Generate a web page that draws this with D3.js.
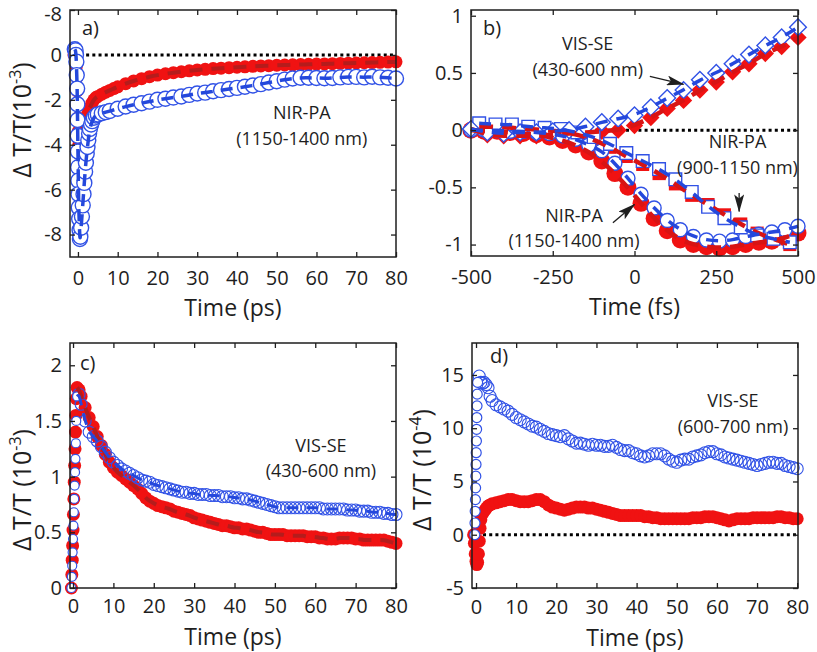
<!DOCTYPE html>
<html>
<head>
<meta charset="utf-8">
<script src="https://cdn.jsdelivr.net/npm/d3@7"></script>
<style>
  body { margin: 0; background: #fff; }
</style>
</head>
<body>
<svg id="fig" width="817" height="652"></svg>
<script>
// ---------- data ----------
// shared time grid (ps) for the dense late-time parts of c) and d)
var tGrid = [2,3,4,5,6,7,8,9,10,11,12,13,14,15,16,17,18,19,20,21,22,23,24,25,26,27,28,29,30,
  31,32,33,34,35,36,37,38,39,40,41,42,43,44,45,46,47,48,49,50,51,52,53,54,55,56,57,58,59,60,
  61,62,63,64,65,66,67,68,69,70,71,72,73,74,75,76,77,78,79,80];

// a) NIR-PA 1150-1400 nm, 10^-3
var tA_red = [-1.0,-0.6,-0.4,-0.3,-0.2,-0.1,0,0.1,0.2,0.3,0.5,0.8,1.2,1.6,2,2.5,3,3.5,4,4.5,
  5,6,7,8,9,10,12,14,16,18,20,22,24,26,28,30,32,34,36,38,40,42,44,46,48,50,52,54,56,58,60,
  62,64,66,68,70,72,74,76,78,80];
var vA_red = [0,-0.1,-0.5,-1.0,-1.6,-2.2,-2.8,-3.4,-4.0,-4.4,-4.2,-3.7,-3.3,-3.0,-2.8,-2.6,-2.35,-2.15,-2.0,-1.9,
  -1.85,-1.75,-1.66,-1.58,-1.5,-1.42,-1.28,-1.16,-1.06,-0.97,-0.9,-0.84,-0.79,-0.75,-0.71,-0.67,
  -0.64,-0.61,-0.59,-0.57,-0.55,-0.53,-0.51,-0.49,-0.48,-0.46,-0.45,-0.44,-0.43,-0.42,-0.41,
  -0.4,-0.39,-0.38,-0.37,-0.36,-0.35,-0.34,-0.33,-0.32,-0.31];
var tA_blue = [-0.8,-0.6,-0.5,-0.4,-0.3,-0.2,-0.15,-0.1,-0.05,0,0.05,0.1,0.15,0.2,0.3,0.4,0.5,0.6,0.8,1.0,
  1.2,1.4,1.6,1.8,2.0,2.2,2.4,2.6,2.8,3.0,3.3,3.6,4.0,4.5,5,6,7,8,
  10,12,14,16,18,20,22,24,26,28,30,32,34,36,38,40,42,44,46,48,50,52,54,56,58,60,62,64,66,68,70,72,74,76,78,80];
var vA_blue = [0.25,0.2,0.0,-0.3,-0.9,-1.5,-2.2,-2.9,-3.6,-4.3,-5.0,-5.6,-6.2,-6.8,-7.3,-7.8,-8.2,-8.1,-7.7,-7.2,
  -6.7,-6.2,-5.7,-5.2,-4.8,-4.4,-4.1,-3.8,-3.5,-3.3,-3.1,-2.95,-2.8,-2.7,-2.65,-2.6,-2.55,-2.5,
  -2.4,-2.3,-2.22,-2.15,-2.08,-2.0,-1.95,-1.9,-1.85,-1.78,-1.72,-1.68,-1.62,-1.57,-1.52,-1.47,-1.42,-1.36,-1.3,-1.23,
  -1.17,-1.1,-1.05,-1.02,-1.02,-1.03,-1.04,-1.03,-1.0,-0.98,-0.98,-1.0,-0.97,-1.0,-1.02,-1.05];
var ticksA_y = [2, 0, -2, -4, -6, -8];
var labelsA_y = ["-8", "0", "-2", "-4", "-6", "-8"];

// b) early times (fs), normalised
var tB_dia = [-500,-450,-400,-350,-300,-250,-200,-150,-100,-50,0,50,100,150,200,250,300,350,400,450,500];
var vB_dia_red  = [0.01,-0.04,-0.05,-0.05,-0.05,-0.04,-0.03,-0.02,-0.01,0.0,0.04,0.11,0.19,0.26,0.35,0.42,0.51,0.58,0.67,0.73,0.81];
var vB_dia_blue = [0.01,-0.02,-0.03,-0.02,-0.02,-0.01,0.0,0.03,0.07,0.1,0.13,0.2,0.28,0.35,0.44,0.5,0.58,0.66,0.74,0.81,0.9];
var tB_sq = [-475,-425,-375,-325,-275,-225,-175,-125,-75,-25,25,75,125,175,225,275,325,375,425,475];
var vB_sq_red  = [0.03,0.03,0.02,0.01,0.0,-0.01,-0.04,-0.08,-0.15,-0.23,-0.3,-0.38,-0.47,-0.57,-0.65,-0.74,-0.82,-0.9,-0.95,-1.0];
var vB_sq_blue = [0.06,0.05,0.05,0.03,0.02,0.01,-0.02,-0.06,-0.12,-0.2,-0.27,-0.34,-0.43,-0.54,-0.67,-0.77,-0.85,-0.92,-0.95,-0.98];
var tB_cir = [-500,-460,-420,-380,-340,-300,-260,-220,-180,-140,-100,-60,-20,20,60,100,140,180,220,260,300,340,380,420,460,500];
var vB_cir_red  = [0,-0.01,-0.01,-0.02,-0.03,-0.04,-0.06,-0.09,-0.13,-0.19,-0.27,-0.38,-0.5,-0.64,-0.77,-0.88,-0.96,-1.0,-1.02,-1.03,-1.02,-1.0,-0.98,-0.97,-0.94,-0.9];
var vB_cir_blue = [0,0,0,-0.01,-0.01,-0.02,-0.03,-0.05,-0.08,-0.13,-0.18,-0.29,-0.42,-0.56,-0.68,-0.79,-0.87,-0.93,-0.96,-0.97,-0.96,-0.93,-0.91,-0.89,-0.87,-0.84];

// c) VIS-SE 430-600 nm, 10^-3
var tC_early = [-0.4,-0.3,-0.2,-0.1,0,0.1,0.2,0.3,0.4,0.5,0.6,0.7,0.8,1.0,1.5];
var vC_red = [0,0.12,0.25,0.38,0.52,0.66,0.8,0.95,1.1,1.25,1.4,1.55,1.7,1.8,1.78,
  1.72,1.62,1.53,1.45,1.36,1.28,1.2,1.13,1.08,1.04,1.01,0.98,0.95,0.92,0.89,0.85,0.81,0.78,0.76,
  0.74,0.73,0.72,0.71,0.69,0.68,0.67,0.66,0.65,0.63,0.62,0.61,0.6,0.59,0.58,0.57,0.56,0.56,0.55,0.54,
  0.54,0.53,0.53,0.52,0.51,0.5,0.5,0.49,0.48,0.48,0.48,0.48,0.47,0.47,0.47,0.47,0.47,0.46,0.46,0.46,
  0.45,0.45,0.44,0.44,0.44,0.45,0.45,0.45,0.45,0.44,0.44,0.43,0.43,0.43,0.43,0.43,0.43,0.42,0.41,0.40];
var vC_blue = [0,0.1,0.2,0.32,0.44,0.56,0.68,0.8,0.92,1.04,1.16,1.3,1.5,1.72,1.74,
  1.65,1.5,1.4,1.36,1.32,1.27,1.22,1.17,1.13,1.1,1.07,1.05,1.03,1.01,0.99,0.97,0.96,0.95,0.93,
  0.92,0.91,0.9,0.89,0.88,0.87,0.86,0.86,0.85,0.85,0.84,0.84,0.84,0.83,0.83,0.83,0.82,0.82,0.82,0.81,
  0.81,0.8,0.8,0.79,0.78,0.77,0.76,0.75,0.74,0.73,0.72,0.72,0.72,0.72,0.72,0.72,0.72,0.72,0.72,0.72,
  0.72,0.71,0.71,0.71,0.71,0.71,0.71,0.7,0.7,0.7,0.69,0.69,0.69,0.68,0.68,0.68,0.67,0.67,0.66,0.66];

// d) VIS-SE 600-700 nm, 10^-4
var tD_blue_early = [-0.3,-0.25,-0.2,-0.15,-0.1,-0.05,0,0.05,0.1,0.15,0.2,0.25,0.3,0.4,0.8,1.2,1.6,2.0,2.5,3.0,3.5,4];
var vD_blue = [0,1.1,2.2,3.3,4.4,5.5,6.6,7.7,8.8,9.9,11,12.1,13.2,14.3,14.9,14.3,14.2,14.3,14.1,13.8,13.0,12.6,
  12.2,12.0,11.8,11.6,11.3,11.0,10.8,10.6,10.4,10.2,10.1,9.9,9.7,9.5,9.4,9.3,
  9.2,9.3,9.0,8.8,8.6,8.6,8.5,8.4,8.5,8.4,8.4,8.3,8.3,8.4,8.2,8.0,7.9,7.9,7.7,7.6,
  7.4,7.3,7.4,7.6,7.6,7.6,7.4,7.1,6.9,6.8,7.0,7.1,7.1,7.3,7.4,7.5,7.7,7.8,7.8,7.6,
  7.5,7.3,7.2,7.1,7.0,6.9,6.8,6.7,6.6,6.5,6.6,6.7,6.8,6.8,6.7,6.7,6.5,6.4,6.3,6.2];
var tD_red_early = [-0.6,-0.4,-0.2,0,0.2,0.4,0.6,0.8,1.0,1.2,1.5,1.8,2.2,2.6,3,3.5,4];
var vD_red = [0,-0.8,-1.8,-2.5,-2.8,-2.6,-1.8,-0.6,0.6,1.4,1.9,2.1,2.3,2.5,2.7,2.8,2.9,
  3.0,3.1,3.2,3.3,3.3,3.2,3.1,3.1,3.1,3.2,3.3,3.3,3.1,2.8,2.6,2.5,
  2.4,2.3,2.4,2.5,2.6,2.6,2.6,2.5,2.5,2.4,2.3,2.2,2.1,2.0,1.9,1.8,1.8,1.8,1.8,1.8,
  1.8,1.7,1.7,1.6,1.6,1.5,1.5,1.5,1.5,1.5,1.5,1.5,1.5,1.6,1.6,1.6,1.7,1.7,1.7,1.6,
  1.5,1.4,1.3,1.4,1.5,1.5,1.5,1.5,1.6,1.6,1.6,1.6,1.6,1.6,1.7,1.7,1.6,1.6,1.5,1.5];

// ---------- style ----------
var FONT = "'Open Sans', 'Noto Sans', sans-serif";
var RED = "#f01212", BLUE = "#3152e6", DKRED = "#b51c1c", LNRED = "#d81414", DKBLUE = "#2448dc", INK = "#1e1e1e";

var svg = d3.select("#fig");
svg.append("rect").attr("width", 817).attr("height", 652).attr("fill", "#fff");

svg.append("defs").append("marker")
  .attr("id", "head")
  .attr("markerUnits", "userSpaceOnUse")
  .attr("viewBox", "0 0 18 10")
  .attr("refX", 17).attr("refY", 5)
  .attr("markerWidth", 18).attr("markerHeight", 10)
  .attr("orient", "auto")
  .append("path").attr("d", "M0,0 L18,5 L0,10 L4,5 Z").attr("fill", INK);

function zip(t, v) {
  return t.map(function(d, i) { return { t: d, v: v[i] }; });
}

function axisStyle(sel) {
  sel.select(".domain").remove();
  sel.selectAll(".tick line").attr("stroke", INK).attr("stroke-width", 1.3);
  sel.selectAll(".tick text").attr("fill", INK).attr("font-size", 20).attr("font-family", FONT);
}

function makePanel(p) {
  var x = d3.scaleLinear().domain(p.xDom).range([p.left, p.right]);
  var y = d3.scaleLinear().domain(p.yDom).range([p.bottom, p.top]);
  var g = svg.append("g");
  var back = g.append("g"), marks = g.append("g"), lines = g.append("g"), front = g.append("g");

  if (p.zero !== undefined) {
    back.append("line")
      .attr("x1", x(p.zero)).attr("x2", p.right)
      .attr("y1", y(0)).attr("y2", y(0))
      .attr("stroke", "#000").attr("stroke-width", 3).attr("stroke-dasharray", "3,3.2");
  }

  front.append("rect")
    .attr("x", p.left).attr("y", p.top)
    .attr("width", p.right - p.left).attr("height", p.bottom - p.top)
    .attr("fill", "none").attr("stroke", INK).attr("stroke-width", 1.5);

  var fmt = function(d) { return String(d); };
  front.append("g").attr("transform", "translate(0," + p.bottom + ")")
    .call(d3.axisBottom(x).tickValues(p.xTicks).tickSize(-5).tickPadding(p.xPad).tickFormat(fmt))
    .call(axisStyle);
  front.append("g").attr("transform", "translate(0," + p.top + ")")
    .call(d3.axisTop(x).tickValues(p.xTicks).tickSize(-5).tickFormat(""))
    .call(axisStyle);
  var yl = front.append("g").attr("transform", "translate(" + p.left + ",0)")
    .call(d3.axisLeft(y).tickValues(p.yTicks).tickSize(-5).tickPadding(8).tickFormat(p.yFmt || fmt))
    .call(axisStyle);
  // the top label sits a little below the frame edge
  yl.selectAll(".tick text").filter(function(d) { return y(d) - p.top < 2; })
    .attr("dy", "0.5em");
  front.append("g").attr("transform", "translate(" + p.right + ",0)")
    .call(d3.axisRight(y).tickValues(p.yTicks).tickSize(-5).tickFormat(""))
    .call(axisStyle);

  front.append("text")
    .attr("x", (p.left + p.right) / 2).attr("y", p.bottom + p.titleDy)
    .attr("text-anchor", "middle").attr("font-family", FONT).attr("font-size", 23).attr("fill", INK)
    .text(p.xTitle);

  front.append("text")
    .attr("x", p.left + p.tag[0]).attr("y", p.top + p.tag[1])
    .attr("font-family", FONT).attr("font-size", 20).attr("fill", INK)
    .text(p.tagText);

  if (p.yTitle) {
    var yt = front.append("text")
      .attr("transform", "translate(" + p.yTitle.x + "," + p.yTitle.y + ") rotate(-90)")
      .attr("text-anchor", "middle").attr("font-family", FONT).attr("font-size", 25).attr("fill", INK);
    yt.append("tspan").text(p.yTitle.main);
    yt.append("tspan").attr("dy", -10).attr("font-size", 16).text(p.yTitle.exp);
    yt.append("tspan").attr("dy", 10).text(")");
  }

  return { x: x, y: y, marks: marks, lines: lines, front: front };
}

function dots(P, data, r, fill, stroke, sw) {
  P.marks.append("g").selectAll("circle").data(data).enter().append("circle")
    .attr("cx", function(d) { return P.x(d.t); })
    .attr("cy", function(d) { return P.y(d.v); })
    .attr("r", r)
    .attr("fill", fill)
    .attr("stroke", stroke || "none")
    .attr("stroke-width", sw || 0);
}

function symbols(P, data, type, size, rot, fill, stroke) {
  var sym = d3.symbol().type(type).size(size);
  P.marks.append("g").selectAll("path").data(data).enter().append("path")
    .attr("d", sym)
    .attr("transform", function(d) { return "translate(" + P.x(d.t) + "," + P.y(d.v) + ") rotate(" + rot + ")"; })
    .attr("fill", fill)
    .attr("stroke", stroke || "none")
    .attr("stroke-width", stroke ? 1.4 : 0);
}

function fit(P, data, color, width, dash) {
  var line = d3.line().x(function(d) { return P.x(d.t); }).y(function(d) { return P.y(d.v); }).curve(d3.curveBasis);
  P.lines.append("path").datum(data)
    .attr("d", line)
    .attr("fill", "none")
    .attr("stroke", color).attr("stroke-width", width)
    .attr("stroke-dasharray", dash);
}

function note(P, lines, tx, tv) {
  lines.forEach(function(s, i) {
    P.front.append("text")
      .attr("x", P.x(tx)).attr("y", P.y(tv[i]))
      .attr("text-anchor", "middle").attr("font-family", FONT).attr("font-size", 18).attr("fill", INK)
      .text(s);
  });
}

function arrow(P, t1, v1, t2, v2) {
  P.front.append("line")
    .attr("x1", P.x(t1)).attr("y1", P.y(v1)).attr("x2", P.x(t2)).attr("y2", P.y(v2))
    .attr("stroke", INK).attr("stroke-width", 1.3).attr("marker-end", "url(#head)");
}

function early(d) { return d.t < 1.5; }
function late(d) { return d.t >= 1.5; }

// ---------- a) ----------
var A = makePanel({
  left: 70, right: 396, top: 10, bottom: 257,
  xDom: [-2, 80], yDom: [-9, 2],
  xTicks: [0,10,20,30,40,50,60,70,80], yTicks: ticksA_y,
  yFmt: function(d, i) { return labelsA_y[i]; },
  xPad: 14, titleDy: 59, xTitle: "Time (ps)",
  tag: [12, 25], tagText: "a)", zero: 0.5,
  yTitle: { x: 31, y: 120, main: "\u0394 T/T(10", exp: "-3" }
});
var redA = zip(tA_red, vA_red), blueA = zip(tA_blue, vA_blue);
dots(A, redA, 6.5, RED);
fit(A, redA.filter(function(d) { return d.t >= 3; }), DKRED, 4, "13,9");
dots(A, blueA, 7.5, "#fff", BLUE, 1.4);
fit(A, blueA, DKBLUE, 3.5, "12,8");
note(A, ["NIR-PA", "(1150-1400 nm)"], 56.3, [-2.86, -4.01]);

// ---------- b) ----------
var B = makePanel({
  left: 471, right: 798, top: 10, bottom: 256,
  xDom: [-500, 500], yDom: [-1.1, 1.05],
  xTicks: [-500,-250,0,250,500], yTicks: [1,0.5,0,-0.5,-1],
  xPad: 14, titleDy: 59, xTitle: "Time (fs)",
  tag: [12, 25], tagText: "b)", zero: -500
});
var diaR = zip(tB_dia, vB_dia_red), diaB = zip(tB_dia, vB_dia_blue);
var sqR = zip(tB_sq, vB_sq_red), sqB = zip(tB_sq, vB_sq_blue);
var cirR = zip(tB_cir, vB_cir_red), cirB = zip(tB_cir, vB_cir_blue);
dots(B, cirR, 8.5, RED);
symbols(B, sqR, d3.symbolSquare, 170, 0, RED);
symbols(B, diaR, d3.symbolSquare, 150, 45, RED);
dots(B, cirB, 7, "#fff", BLUE, 1.4);
symbols(B, sqB, d3.symbolSquare, 160, 0, "#fff", BLUE);
symbols(B, diaB, d3.symbolSquare, 140, 45, "#fff", BLUE);
[cirR, sqR, diaR].forEach(function(s) { fit(B, s, LNRED, 4.5, "14,9"); });
[cirB, sqB, diaB].forEach(function(s) { fit(B, s, DKBLUE, 3.5, "12,9"); });
note(B, ["VIS-SE", "(430-600 nm)"], -143, [0.70, 0.47]);
note(B, ["NIR-PA", "(900-1150 nm)"], 315, [-0.16, -0.38]);
note(B, ["NIR-PA", "(1150-1400 nm)"], -185, [-0.80, -1.02]);
arrow(B, 47, 0.47, 150, 0.40);
arrow(B, 320, -0.55, 320, -0.71);
arrow(B, -66, -0.81, 0, -0.65);

// ---------- c) ----------
var C = makePanel({
  left: 70, right: 396, top: 343, bottom: 588,
  xDom: [-0.75, 80], yDom: [0, 2.2],
  xTicks: [0,10,20,30,40,50,60,70,80], yTicks: [0,0.5,1,1.5,2],
  xPad: 11, titleDy: 57, xTitle: "Time (ps)",
  tag: [10, 27], tagText: "c)",
  yTitle: { x: 31, y: 490, main: "\u0394 T/T (10", exp: "-3" }
});
var redC = zip(tC_early.concat(tGrid), vC_red), blueC = zip(tC_early.concat(tGrid), vC_blue);
dots(C, redC, 6.5, RED);
fit(C, redC.filter(function(d) { return d.t >= 1; }), DKRED, 4, "13,9");
dots(C, blueC.filter(late), 6, "none", BLUE, 1.1);
dots(C, blueC.filter(early), 4.5, "#fff", BLUE, 1.2);
fit(C, blueC.filter(function(d) { return d.t >= 1; }), DKBLUE, 3, "12,8");
note(C, ["VIS-SE", "(430-600 nm)"], 61.4, [1.22, 1.0]);

// ---------- d) ----------
var D = makePanel({
  left: 472, right: 798, top: 343, bottom: 588,
  xDom: [-1, 80.2], yDom: [-5, 18],
  xTicks: [0,10,20,30,40,50,60,70,80], yTicks: [15,10,5,0,-5],
  xPad: 12, titleDy: 58, xTitle: "Time (ps)",
  tag: [18, 20], tagText: "d)", zero: 0.2,
  yTitle: { x: 431, y: 470, main: "\u0394 T/T (10", exp: "-4" }
});
var redD = zip(tD_red_early.concat(tGrid.slice(3)), vD_red), blueD = zip(tD_blue_early.concat(tGrid.slice(3)), vD_blue);
dots(D, redD, 6.5, RED);
dots(D, blueD.filter(function(d) { return d.t >= 0.8; }), 6, "none", BLUE, 1.1);
dots(D, blueD.filter(function(d) { return d.t < 0.8; }), 5, "#fff", BLUE, 1.2);
note(D, ["VIS-SE", "(600-700 nm)"], 64, [12.0, 9.55]);
</script>
</body>
</html>
